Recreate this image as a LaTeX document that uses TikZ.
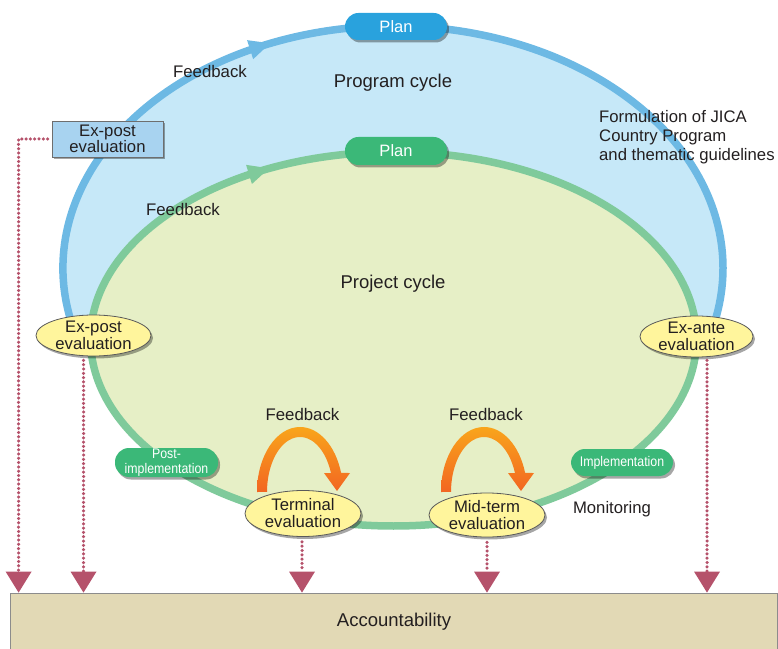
\documentclass[tikz,border=0pt]{standalone}
\usepackage{fontspec}
\setmainfont{Liberation Sans}
\newfontfamily\narrowfont[FakeStretch=0.88]{Liberation Sans}
\usetikzlibrary{shapes.geometric,shadows,arrows.meta}
\usetikzlibrary{decorations.markings}

\definecolor{ink}{HTML}{231F20}
\definecolor{progline}{HTML}{6DB9E4}
\definecolor{progfill}{HTML}{C6E8F8}
\definecolor{projline}{HTML}{7FCA9B}
\definecolor{projfill}{HTML}{E6EFC6}
\definecolor{planblue}{HTML}{29A2DD}
\definecolor{plangreen}{HTML}{3BB878}
\definecolor{ovalfill}{HTML}{FFF59C}
\definecolor{ovalline}{HTML}{5A5A5A}
\definecolor{boxfill}{HTML}{A8D3F0}
\definecolor{boxline}{HTML}{6E6E6E}
\definecolor{dotred}{HTML}{B5526B}
\definecolor{accfill}{HTML}{E2D9B5}
\definecolor{accline}{HTML}{8C8C8C}
\definecolor{fbtop}{HTML}{F9A51B}
\definecolor{fbbot}{HTML}{F26522}

\tikzset{
  txt/.style={text=ink, font=\fontsize{16.8}{18}\selectfont},
  bigtxt/.style={text=ink, font=\fontsize{18.5}{21}\selectfont},
  shade2/.style={drop shadow={shadow xshift=2pt, shadow yshift=-2.5pt, opacity=0.35, fill=black}},
  cycleline/.style={draw=#1, line width=7.5pt},
  cyclearrow/.style 2 args={postaction={decorate, decoration={markings,
    mark=at position #1 with {\fill[#2] (-11pt,-10pt) -- (10pt,0pt) -- (-11pt,10pt) -- cycle;}}}},
  planpill/.style={rectangle, rounded corners=13.5pt, minimum width=102pt, minimum height=27pt,
    inner sep=0pt, text=white, font=\fontsize{16.5}{18}\selectfont, shade2},
  stagepill/.style={rectangle, rounded corners=14pt, fill=plangreen, minimum width=102pt,
    minimum height=28pt, inner sep=0pt, text=white, align=center,
    font=\narrowfont\fontsize{14}{14.5}\selectfont, shade2},
  evaloval/.style={ellipse, draw=ovalline, fill=ovalfill, line width=0.8pt, inner xsep=0pt,
    inner ysep=-5pt, align=center, text=ink, font=\fontsize{16.7}{17}\selectfont, shade2},
  dotline/.style={draw=dotred, line width=3.5pt, line cap=round, dash pattern=on 0pt off 4.3pt,
    -{Triangle[length=21pt, width=26pt, line width=0pt]}, dotred},
}

\begin{document}
\begin{tikzpicture}[x=1pt,y=1pt]
\useasboundingbox (0,0) rectangle (778,648);
\clip (0,0) rectangle (778,648);

% program cycle
\path[fill=progfill] (393,380) ++(200:330pt and 242pt)
  arc[start angle=200, end angle=-20, x radius=330pt, y radius=242pt] -- cycle;
\draw[cycleline=progline, cyclearrow={0.375}{progline}] (393,380) ++(200:330pt and 242pt)
  arc[start angle=200, end angle=-20, x radius=330pt, y radius=242pt];

% project cycle
\draw[cycleline=projline, fill=projfill, cyclearrow={0.163}{projline}] (393.5,309) ++(180:303pt and 187pt)
  arc[start angle=180, end angle=-180, x radius=303pt, y radius=187pt] -- cycle;

\node (plan-prog) [planpill, fill=planblue] at (396,621.5) {Plan};
\node (plan-proj) [planpill, fill=plangreen, minimum height=28pt] at (396,497) {Plan};

\node (prog) [bigtxt] at (393,565) {Program cycle};
\node (proj) [bigtxt] at (393,364) {Project cycle};
\node (fb-prog) [txt] at (210,576) {Feedback};
\node (fb-proj) [txt] at (183,439) {Feedback};
\node (fb-term) [txt] at (302.5,234) {Feedback};
\node (fb-mid) [txt] at (486,234) {Feedback};
\node (jica) [txt, font=\fontsize{16.7}{19}\selectfont, anchor=west, align=left, inner sep=0pt]
  at (599,511) {Formulation of JICA\\Country Program\\and thematic guidelines};
\node (monitor) [txt, font=\fontsize{16.7}{18}\selectfont] at (612,139) {Monitoring};

\node (xbox) [rectangle, draw=boxline, fill=boxfill, line width=0.8pt, minimum width=111pt,
  minimum height=36pt, inner sep=0pt, align=center, txt, font=\fontsize{16.7}{16}\selectfont, shade2]
  at (107.5,509) {Ex-post\\evaluation};

\node (xpo) [evaloval, minimum width=115pt, minimum height=41pt] at (93.5,312.5) {Ex-post\\evaluation};
\node (xan) [evaloval, minimum width=113pt, minimum height=41pt] at (696.5,311.5) {Ex-ante\\evaluation};
\node (term) [evaloval, minimum width=116pt, minimum height=46pt] at (303,134.5) {Terminal\\evaluation};
\node (mid) [evaloval, minimum width=116pt, minimum height=44pt] at (487,133) {Mid-term\\evaluation};

\node (post) [stagepill, minimum width=103pt, minimum height=29pt] at (166.5,185.5) {Post-\\implementation};
\node (impl) [stagepill, minimum height=27pt] at (622,185.5) {Implementation};

% feedback arrows
\foreach \s in {0,184}
  \shade[top color=fbtop, bottom color=fbbot, xshift=\s pt]
  (257,156) arc[start angle=180, end angle=17, x radius=43pt, y radius=65pt]
  -- (350,175) -- (337,157) -- (324,175) -- (330.97,175)
  arc[start angle=20.2, end angle=180, x radius=33pt, y radius=55pt] -- cycle;

\node (acc) [rectangle, draw=accline, fill=accfill, line width=0.8pt, minimum width=767pt,
  minimum height=60pt, inner sep=0pt] at (393.5,25) {};
\node (acc-txt) [text=ink, font=\fontsize{18.5}{20}\selectfont] at (394,26) {Accountability};

\draw[dotline] ([xshift=-4pt]xbox.west) -| ([xshift=9pt]acc.north west);
\foreach \n/\dx/\dy in {xpo/-10/-4, term/-1/-5, mid/0/-5, xan/10.5/-3} {
  \coordinate (s-\n) at ([xshift=\dx pt, yshift=\dy pt]\n.south);
  \draw[dotline] (s-\n) -- (s-\n |- acc.north);
}
\end{tikzpicture}
\end{document}
